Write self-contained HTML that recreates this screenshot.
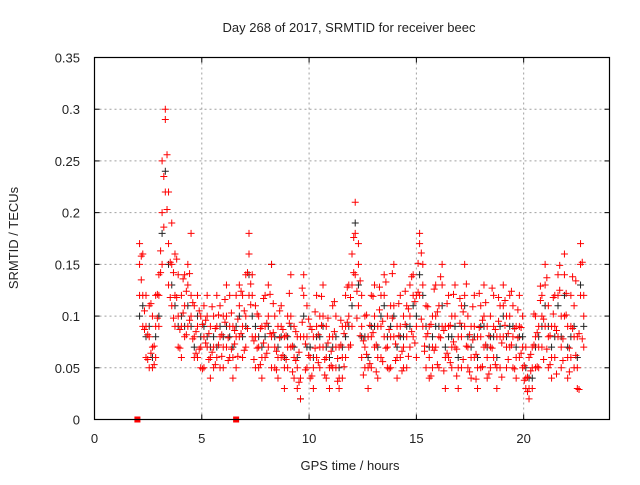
<!DOCTYPE html>
<html><head><meta charset="utf-8"><style>
body{margin:0;background:#fff}
svg text{font-family:"Liberation Sans","DejaVu Sans",sans-serif;font-size:13px;fill:#222}
</style></head><body>
<svg id="chart" width="640" height="480" viewBox="0 0 640 480" xmlns="http://www.w3.org/2000/svg">
<rect width="640" height="480" fill="#fff"/>
<text x="349" y="32" text-anchor="middle">Day 268 of 2017, SRMTID for receiver beec</text>
<text transform="translate(18,238) rotate(-90)" text-anchor="middle">SRMTID / TECUs</text>
<text x="350" y="470" text-anchor="middle">GPS time / hours</text>
<g id="grid"></g><g id="ticks"></g><g id="marks"></g>
<rect x="94.5" y="57.5" width="515" height="362" fill="none" stroke="#000" stroke-width="1.2"/>
</svg>
<script>
const xTicks=[0,5,10,15,20];
const yTicks=[0,0.05,0.1,0.15,0.2,0.25,0.3,0.35];
const yTickLabels=["0","0.05","0.1","0.15","0.2","0.25","0.3","0.35"];
const times=[2.10,2.25,2.40,2.55,2.70,2.85,3.00,3.15,3.30,3.45,3.60,3.75,3.90,4.05,4.20,4.35,4.50,4.65,4.80,4.95,5.10,5.25,5.40,5.55,5.70,5.85,6.00,6.15,6.30,6.45,6.60,6.75,6.90,7.05,7.20,7.35,7.50,7.65,7.80,7.95,8.10,8.25,8.40,8.55,8.70,8.85,9.00,9.15,9.30,9.45,9.60,9.75,9.90,10.05,10.20,10.35,10.50,10.65,10.80,10.95,11.10,11.25,11.40,11.55,11.70,11.85,12.00,12.15,12.30,12.45,12.60,12.75,12.90,13.05,13.20,13.35,13.50,13.65,13.80,13.95,14.10,14.25,14.40,14.55,14.70,14.85,15.00,15.15,15.30,15.45,15.60,15.75,15.90,16.05,16.20,16.35,16.50,16.65,16.80,16.95,17.10,17.25,17.40,17.55,17.70,17.85,18.00,18.15,18.30,18.45,18.60,18.75,18.90,19.05,19.20,19.35,19.50,19.65,19.80,19.95,20.10,20.25,20.40,20.55,20.70,20.85,21.00,21.15,21.30,21.45,21.60,21.75,21.90,22.05,22.20,22.35,22.50,22.65,22.80];
const redA=[0.15,0.12,0.09,0.08,0.07,0.09,0.12,0.20,0.29,0.17,0.15,0.12,0.10,0.09,0.11,0.13,0.18,0.08,0.09,0.07,0.08,0.10,0.06,0.07,0.09,0.08,0.07,0.10,0.09,0.06,0.08,0.11,0.09,0.10,0.18,0.12,0.08,0.07,0.06,0.09,0.10,0.08,0.07,0.06,0.09,0.05,0.07,0.10,0.06,0.05,0.04,0.12,0.08,0.06,0.05,0.09,0.07,0.10,0.06,0.05,0.08,0.07,0.04,0.06,0.09,0.10,0.13,0.21,0.15,0.09,0.07,0.05,0.08,0.10,0.06,0.09,0.12,0.07,0.08,0.11,0.06,0.09,0.07,0.08,0.10,0.12,0.09,0.17,0.13,0.08,0.06,0.07,0.10,0.08,0.13,0.06,0.09,0.07,0.10,0.05,0.08,0.12,0.07,0.06,0.09,0.05,0.08,0.10,0.06,0.07,0.09,0.05,0.08,0.11,0.07,0.10,0.08,0.06,0.09,0.07,0.04,0.03,0.05,0.08,0.07,0.10,0.13,0.08,0.06,0.09,0.12,0.07,0.14,0.06,0.09,0.08,0.05,0.15,0.10];
const redB=[0.17,0.16,0.12,0.11,0.10,0.12,0.14,0.25,0.30,0.22,0.19,0.16,0.14,0.12,0.14,0.15,0.12,0.11,0.12,0.10,0.11,0.12,0.09,0.10,0.12,0.11,0.10,0.13,0.12,0.09,0.12,0.13,0.12,0.14,0.16,0.14,0.11,0.10,0.09,0.12,0.13,0.15,0.10,0.09,0.11,0.08,0.10,0.14,0.09,0.08,0.08,0.14,0.11,0.09,0.08,0.12,0.10,0.13,0.09,0.08,0.11,0.10,0.07,0.09,0.12,0.13,0.16,0.18,0.17,0.12,0.10,0.08,0.12,0.13,0.09,0.12,0.14,0.10,0.11,0.15,0.09,0.12,0.10,0.11,0.13,0.14,0.12,0.18,0.15,0.11,0.09,0.10,0.13,0.11,0.15,0.09,0.12,0.10,0.13,0.08,0.11,0.15,0.10,0.09,0.12,0.08,0.11,0.13,0.09,0.10,0.12,0.08,0.11,0.13,0.10,0.12,0.11,0.09,0.12,0.10,0.07,0.06,0.07,0.10,0.09,0.12,0.15,0.11,0.09,0.12,0.14,0.10,0.16,0.09,0.12,0.11,0.08,0.17,0.12];
const redC=[0.12,0.09,0.06,0.05,0.05,0.06,0.09,0.15,0.22,0.13,0.11,0.09,0.07,0.06,0.08,0.09,0.10,0.06,0.06,0.05,0.05,0.07,0.04,0.05,0.06,0.05,0.05,0.07,0.06,0.04,0.05,0.08,0.06,0.07,0.12,0.08,0.05,0.05,0.04,0.06,0.07,0.05,0.05,0.04,0.06,0.03,0.05,0.07,0.04,0.03,0.02,0.08,0.05,0.04,0.03,0.06,0.05,0.07,0.04,0.03,0.05,0.05,0.03,0.04,0.06,0.07,0.09,0.14,0.11,0.06,0.05,0.03,0.05,0.07,0.04,0.06,0.08,0.05,0.05,0.08,0.04,0.06,0.05,0.05,0.07,0.08,0.06,0.12,0.09,0.05,0.04,0.05,0.07,0.05,0.09,0.03,0.06,0.05,0.07,0.03,0.05,0.09,0.05,0.04,0.06,0.03,0.05,0.07,0.04,0.05,0.06,0.03,0.05,0.08,0.05,0.07,0.05,0.04,0.06,0.05,0.03,0.02,0.03,0.05,0.05,0.07,0.09,0.05,0.04,0.06,0.08,0.05,0.10,0.04,0.06,0.05,0.03,0.12,0.07];
const blackK=[0.10,0.11,0.08,0.09,0.06,0.08,0.10,0.18,0.24,0.15,0.13,0.11,0.09,0.10,0.09,0.11,0.09,0.07,0.10,0.08,0.09,0.08,0.07,0.08,0.07,0.09,0.08,0.09,0.08,0.07,0.09,0.10,0.08,0.09,0.14,0.10,0.09,0.08,0.07,0.08,0.09,0.15,0.08,0.07,0.08,0.06,0.08,0.09,0.07,0.06,0.02,0.10,0.07,0.07,0.06,0.08,0.08,0.09,0.07,0.06,0.07,0.08,0.05,0.07,0.08,0.09,0.11,0.19,0.13,0.08,0.08,0.06,0.09,0.09,0.07,0.10,0.11,0.08,0.09,0.10,0.07,0.08,0.08,0.09,0.09,0.11,0.10,0.14,0.12,0.09,0.07,0.08,0.09,0.09,0.11,0.07,0.08,0.08,0.09,0.06,0.09,0.11,0.08,0.07,0.08,0.06,0.09,0.09,0.07,0.08,0.08,0.06,0.09,0.10,0.08,0.09,0.09,0.07,0.08,0.08,0.05,0.04,0.04,0.07,0.08,0.09,0.11,0.09,0.07,0.08,0.11,0.08,0.12,0.07,0.08,0.09,0.06,0.13,0.09];
const times2=[2.18,2.33,2.48,2.63,2.78,2.93,3.08,3.23,3.38,3.53,3.68,3.83,3.98,4.13,4.28,4.43,4.58,4.73,4.88,5.03,5.18,5.33,5.48,5.63,5.78,5.93,6.08,6.23,6.38,6.53,6.68,6.83,6.98,7.13,7.28,7.43,7.58,7.73,7.88,8.03,8.18,8.33,8.48,8.63,8.78,8.93,9.08,9.23,9.38,9.53,9.68,9.83,9.98,10.13,10.28,10.43,10.58,10.73,10.88,11.03,11.18,11.33,11.48,11.63,11.78,11.93,12.08,12.23,12.38,12.53,12.68,12.83,12.98,13.13,13.28,13.43,13.58,13.73,13.88,14.03,14.18,14.33,14.48,14.63,14.78,14.93,15.08,15.23,15.38,15.53,15.68,15.83,15.98,16.13,16.28,16.43,16.58,16.73,16.88,17.03,17.18,17.33,17.48,17.63,17.78,17.93,18.08,18.23,18.38,18.53,18.68,18.83,18.98,19.13,19.28,19.43,19.58,19.73,19.88,20.03,20.18,20.33,20.48,20.63,20.78,20.93,21.08,21.23,21.38,21.53,21.68,21.83,21.98,22.13,22.28,22.43,22.58,22.73];
const redD=[0.135,0.105,0.082,0.064,0.071,0.098,0.163,0.235,0.203,0.152,0.142,0.118,0.087,0.103,0.124,0.096,0.078,0.085,0.068,0.092,0.074,0.083,0.065,0.088,0.072,0.061,0.094,0.079,0.068,0.086,0.097,0.083,0.105,0.142,0.111,0.076,0.069,0.088,0.074,0.093,0.121,0.084,0.066,0.079,0.062,0.081,0.093,0.071,0.057,0.065,0.094,0.073,0.062,0.087,0.069,0.082,0.091,0.058,0.074,0.066,0.085,0.059,0.072,0.083,0.094,0.118,0.176,0.124,0.081,0.076,0.063,0.091,0.084,0.072,0.106,0.095,0.069,0.087,0.098,0.073,0.081,0.066,0.092,0.107,0.085,0.114,0.151,0.097,0.071,0.083,0.092,0.067,0.104,0.079,0.086,0.064,0.091,0.075,0.068,0.093,0.104,0.071,0.082,0.077,0.063,0.089,0.096,0.072,0.081,0.069,0.087,0.095,0.074,0.091,0.083,0.072,0.088,0.079,0.064,0.052,0.041,0.063,0.072,0.084,0.115,0.097,0.068,0.081,0.102,0.086,0.125,0.078,0.101,0.069,0.088,0.134,0.083,0.078];
const redE=[0.158,0.087,0.058,0.112,0.053,0.121,0.142,0.186,0.256,0.118,0.098,0.155,0.069,0.136,0.082,0.141,0.113,0.064,0.105,0.049,0.096,0.058,0.109,0.053,0.101,0.082,0.116,0.057,0.103,0.073,0.061,0.124,0.067,0.088,0.131,0.058,0.102,0.053,0.117,0.064,0.083,0.112,0.048,0.105,0.087,0.058,0.122,0.046,0.085,0.036,0.127,0.048,0.097,0.042,0.104,0.055,0.119,0.043,0.098,0.052,0.114,0.037,0.096,0.051,0.128,0.072,0.142,0.098,0.134,0.043,0.101,0.054,0.119,0.046,0.128,0.056,0.133,0.049,0.141,0.057,0.112,0.047,0.124,0.061,0.138,0.074,0.123,0.161,0.066,0.109,0.042,0.126,0.053,0.138,0.047,0.112,0.055,0.121,0.042,0.117,0.058,0.131,0.046,0.109,0.039,0.122,0.051,0.113,0.044,0.127,0.053,0.118,0.041,0.115,0.058,0.124,0.049,0.106,0.089,0.038,0.027,0.047,0.102,0.051,0.129,0.058,0.137,0.053,0.118,0.044,0.149,0.057,0.122,0.046,0.138,0.062,0.029,0.152];
const gapTimes=[2.0,6.6];
const gapValues=[0,0];

const NS="http://www.w3.org/2000/svg";
const X0=94.5,X1=609.5,Y0=419.5,Y1=57.5,XMAX=24,YMAX=0.35;
function sx(t){return X0+(t/XMAX)*(X1-X0);}
function sy(v){return Y0-(v/YMAX)*(Y0-Y1);}
function mk(tag,attrs,parent){const e=document.createElementNS(NS,tag);for(const k in attrs)e.setAttribute(k,attrs[k]);parent.appendChild(e);return e;}
const grid=document.getElementById('grid'),ticks=document.getElementById('ticks'),marks=document.getElementById('marks');
xTicks.forEach(t=>{
  const x=sx(t);
  if(t>0){const g=mk('line',{x1:x,x2:x,y1:Y1,y2:Y0,stroke:'#a0a0a0','stroke-dasharray':'2,3'},grid);
  
  }
  mk('line',{x1:x,x2:x,y1:Y0,y2:Y0-5,stroke:'#000'},ticks);
  mk('line',{x1:x,x2:x,y1:Y1,y2:Y1+5,stroke:'#000'},ticks);
  const l=mk('text',{x:x,y:443,'text-anchor':'middle'},ticks);l.textContent=t;
  
  
});
yTicks.forEach((v,i)=>{
  const y=sy(v);
  if(v>0&&v<YMAX){const g=mk('line',{x1:X0,x2:X1,y1:y,y2:y,stroke:'#a0a0a0','stroke-dasharray':'2,3'},grid);
  
  }
  mk('line',{x1:X0,x2:X0+5,y1:y,y2:y,stroke:'#000'},ticks);
  mk('line',{x1:X1,x2:X1-5,y1:y,y2:y,stroke:'#000'},ticks);
  const l=mk('text',{x:80,y:y+5,'text-anchor':'end'},ticks);l.textContent=yTickLabels[i];
  
  
});
function cross(t,v,col,name){
  const x=sx(t),y=sy(v);
  const p=mk('path',{d:`M${x-3.5},${y}H${x+3.5}M${x},${y-3.5}V${y+3.5}`,stroke:col,'stroke-width':1},marks);
  
  
}
times.forEach((t,i)=>cross(t,blackK[i],'#222','black-point'));
times.forEach((t,i)=>{cross(t,redA[i],'#f00','red-point');cross(t,redB[i],'#f00','red-point');cross(t,redC[i],'#f00','red-point');});
times2.forEach((t,i)=>{cross(t,redD[i],'#f00','red-point');cross(t,redE[i],'#f00','red-point');});
gapTimes.forEach((t,i)=>{
  const r=mk('rect',{x:sx(t)-3,y:sy(gapValues[i])-3,width:6,height:6,fill:'#f00'},marks);
  
  
});
</script>
</body></html>
